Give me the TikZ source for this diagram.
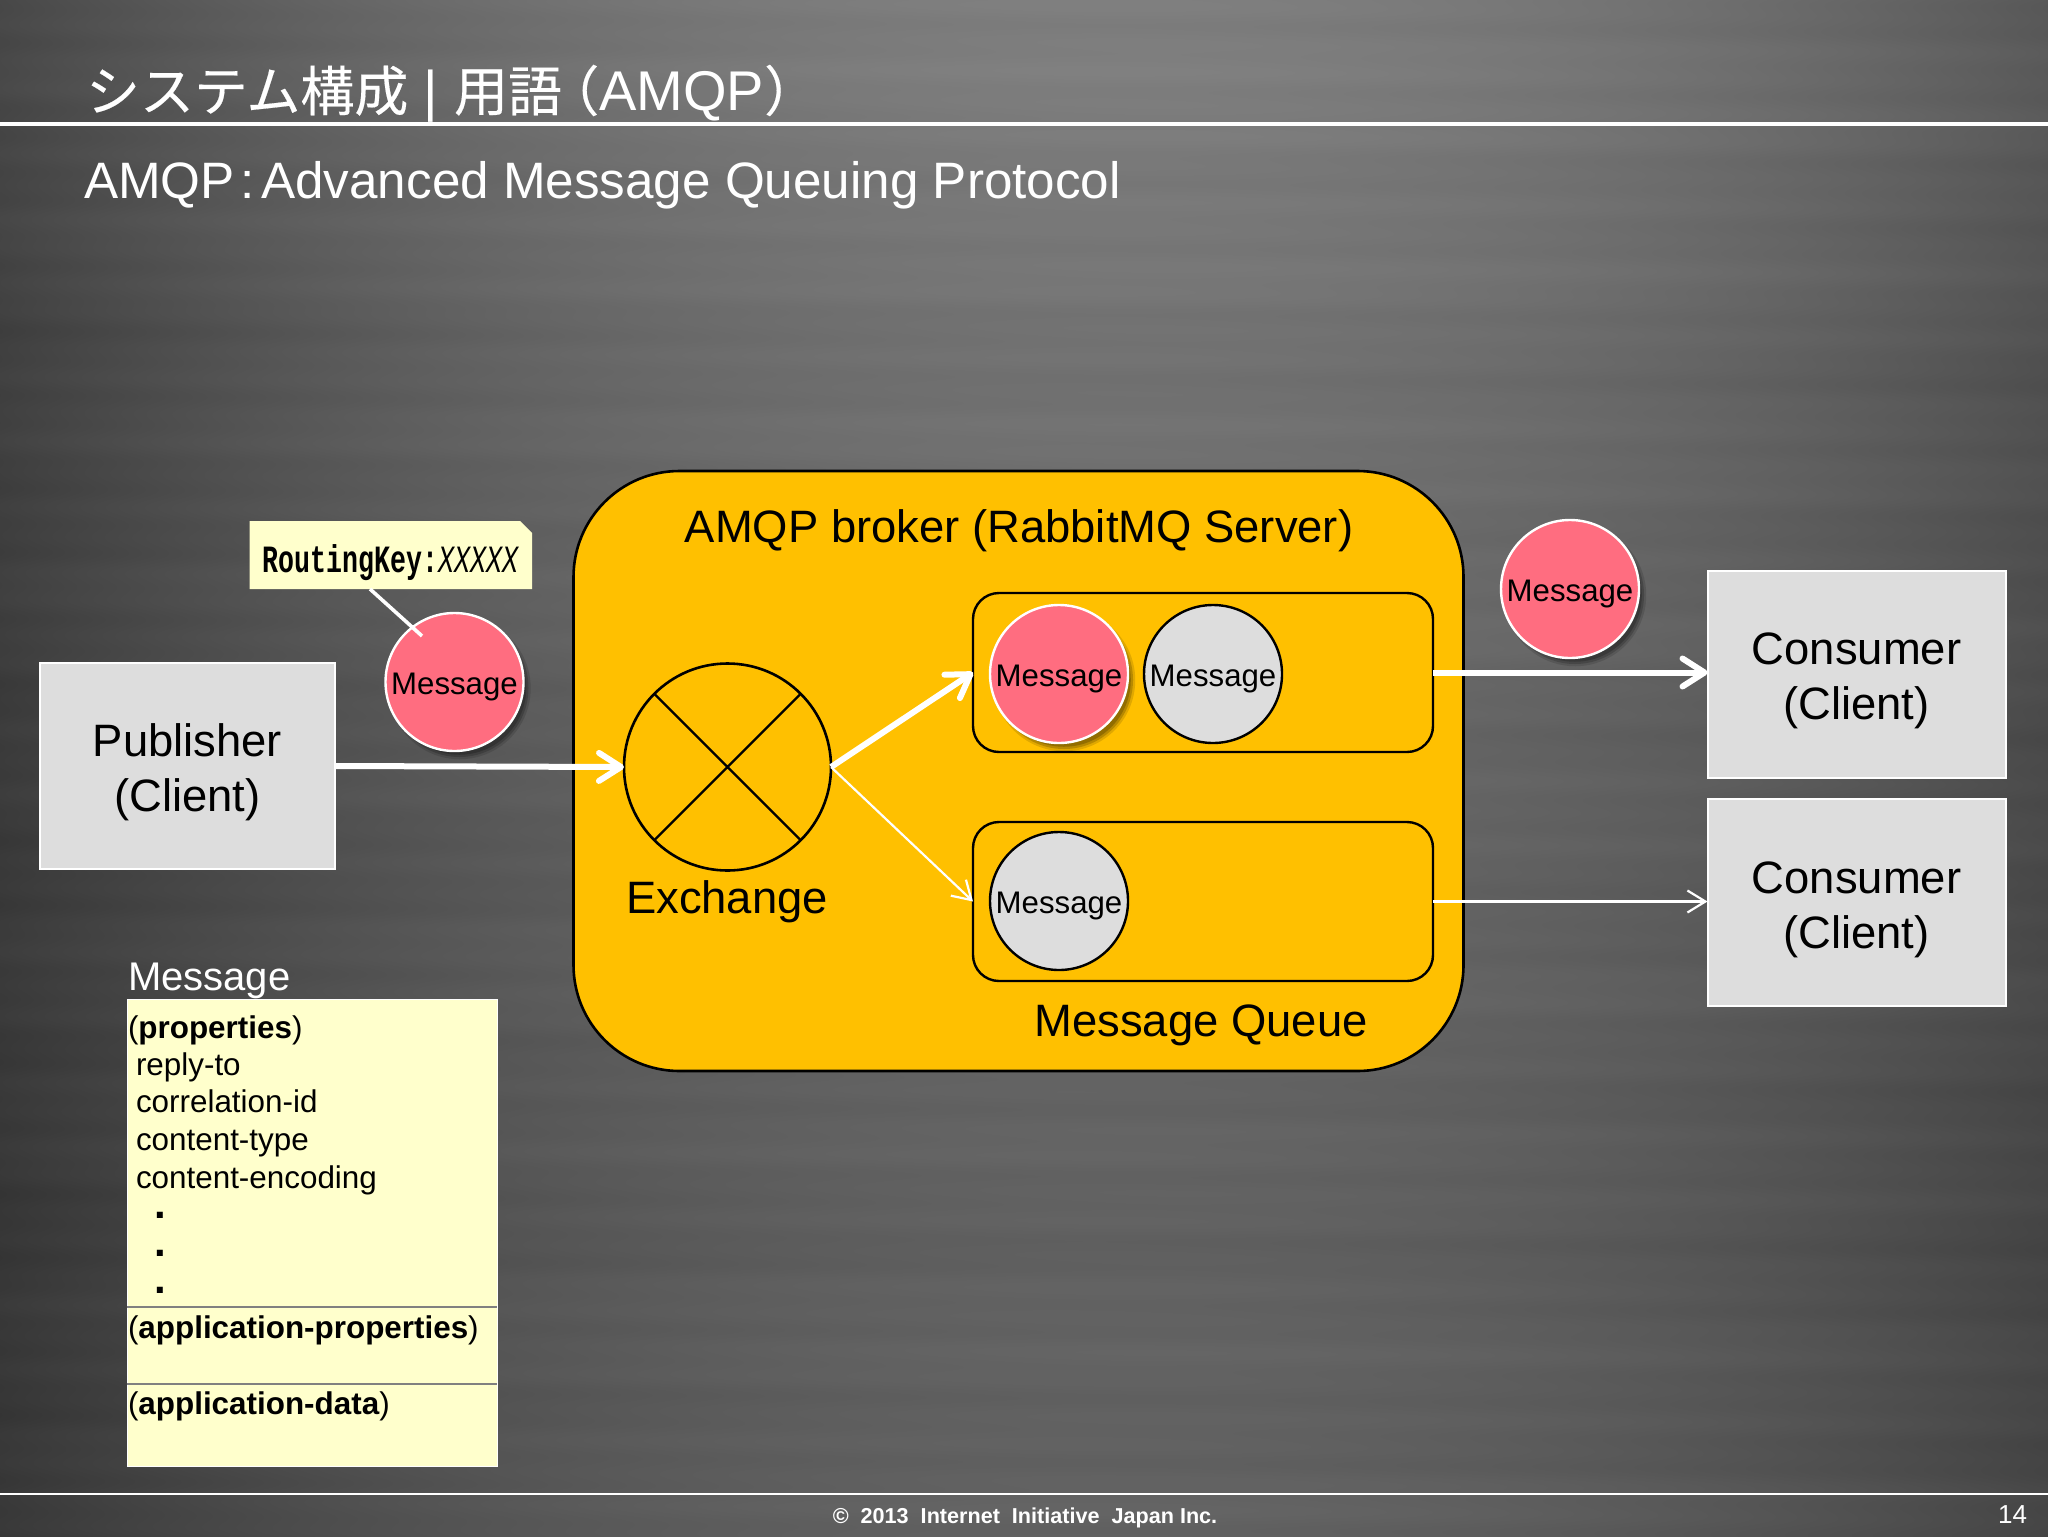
\documentclass[tikz,border=0pt]{standalone}
\usepackage{fontspec}
\setmainfont{Liberation Sans}
\newfontfamily\cjk[FakeBold=0.3]{Noto Sans CJK JP}
\newfontfamily\monof{Liberation Mono}
\usetikzlibrary{arrows.meta,shadows,calc}
\newcommand\fz[2]{\fontsize{#1pt}{#2pt}\selectfont}
\newcommand\cltop{\rule{0pt}{22.9pt}}
\newcommand\msgtext{\rule{0pt}{15.4pt}Message}
\pgfdeclarefunctionalshading{brushed}{\pgfpoint{0pt}{0pt}}{\pgfpoint{1024pt}{768pt}}{}{
  765.1 div exch 1020.2 div exch
  dup 3100 mul 2 index 90 mul add sin 0.0045 mul
  1 index 7700 mul 3 index 140 mul sub sin 0.005 mul add
  1 index 17300 mul 3 index 300 mul add sin 0.004 mul add
  1 index 1300 mul sin 0.003 mul add
  3 1 roll
  dup mul 0.12 mul 0.38 add
  exch 2 mul 1.1 sub
  dup mul 0.36 mul 1 exch sub
  mul add
  dup dup
}
\definecolor{pinkm}{HTML}{FF6D80}
\definecolor{boxg}{HTML}{DDDDDD}
\definecolor{brok}{HTML}{FFC000}
\definecolor{yel}{HTML}{FFFFCC}
\tikzset{
  x=0.5pt,y=-0.5pt,
  lab/.style={inner sep=0,outer sep=0,anchor=base},
  labw/.style={lab,text=white},
  client/.style={rectangle,draw=white,line width=1pt,fill=boxg,inner sep=0,outer sep=0,minimum width=149pt,minimum height=103.5pt,align=center,font=\fz{22.7}{27.5}},
  msg/.style={circle,minimum size=69pt,inner sep=0,outer sep=0,font=\fz{15.6}{18},line width=1.2pt},
  msgr/.style={msg,draw=white,fill=pinkm,
    drop shadow={shadow xshift=2.5pt,shadow yshift=-3pt,shadow scale=1.03,opacity=.12,fill=black},
    drop shadow={shadow xshift=2.5pt,shadow yshift=-3pt,opacity=.18,fill=black},
    drop shadow={shadow xshift=2.5pt,shadow yshift=-3pt,shadow scale=.97,opacity=.2,fill=black}},
  msgg/.style={msg,draw=black,fill=boxg},
  queue/.style={rectangle,draw=black,line width=1.2pt,rounded corners=13pt,inner sep=0,outer sep=0,minimum width=230pt,minimum height=79.5pt},
  thick arrow/.style={draw=white,line width=3pt,-{Straight Barb[length=11pt,width=14pt,round]}},
  thin arrow/.style={draw=white,line width=1.1pt,-{Straight Barb[length=9pt,width=11pt]}},
  boxtext/.style={lab,anchor=base west,font=\fz{15.7}{18},text=black},
  dotmark/.style={lab,font=\bfseries\fz{21}{24}},
}
\begin{document}
\begin{tikzpicture}
\useasboundingbox (0,0) rectangle (2048,1536);
\node[inner sep=0,outer sep=0,anchor=north west] (bg) at (0,0) {\pgfuseshading{brushed}};

% header and footer
\draw[white,line width=2.2pt] (0,124) -- (2048,124);
\draw[white,line width=0.8pt] (0,1494) -- (2048,1494);
\node[labw,anchor=base west,font=\fz{28}{32}] (title) at (86,111) {{\cjk\fz{27}{32}システム構成} | {\cjk\fz{27}{32}用語}\hspace{-0.3em}{\cjk\fz{27}{32}（}AMQP{\cjk\fz{27}{32}）}};
\node[labw,anchor=base west,font=\fz{25.6}{30}] (sub) at (84,198.5) {AMQP\hspace{0.12em}:\hspace{0.12em}Advanced Message Queuing Protocol};
\node[labw,font=\bfseries\fz{10.8}{13}] (foot) at (1025,1523) {©\ \ 2013\ \ Internet\ \ Initiative\ \ Japan Inc.};
\node[labw,anchor=base east,font=\fz{13}{15}] (page) at (2027,1523) {14};

% broker
\node[rectangle,draw=black,line width=1.3pt,fill=brok,rounded corners=53pt,inner sep=0,outer sep=0,minimum width=445pt,minimum height=300pt] (broker) at (1018.5,771) {};
\node[lab,font=\fz{22.7}{27}] (brokerl) at (1019,542) {AMQP broker (RabbitMQ Server)};

% exchange
\node[circle,draw=black,line width=1.3pt,minimum size=103.5pt,inner sep=0,outer sep=0] (ex) at (727.5,767) {};
\draw[black,line width=1.2pt] (ex.45) -- (ex.225) (ex.135) -- (ex.-45);
\node[lab,font=\fz{22.7}{27}] (exl) at (727,913) {Exchange};

% queues
\node[queue] (q1) at (1203,672.5) {};
\node[queue] (q2) at (1203,901.5) {};
\node[lab,font=\fz{22.7}{27}] (ql) at (1201,1036) {Message Queue};
\node[msgr] (m1) at (1059,674) {\msgtext};
\node[msgg] (m2) at (1213,674) {\msgtext};
\node[msgg] (m3) at (1059,901) {\msgtext};

% clients
\node[client,minimum width=147.5pt,minimum height=103pt] (pub) at (187.5,766) {\cltop Publisher\\(Client)};
\node[client] (c1) at (1856.5,674) {\cltop Consumer\\(Client)};
\node[client] (c2) at (1856.5,902.5) {\cltop Consumer\\(Client)};

% travelling messages
\node[msgr] (m0) at (454.5,682) {\msgtext};
\node[msgr] (m4) at (1570,589) {\msgtext};

% routing key callout
\fill[yel] (249.5,521) -- (520,521) -- (532,533) -- (532,589) -- (249.5,589) -- cycle;
\node[inner sep=0,outer sep=0] (rk) at (391,562.5) {\scalebox{1}[1.45]{\monof\fz{13.3}{15}\textbf{RoutingKey:}\textit{XXXXX}}};
\coordinate (rkfoot) at (370,589);
\coordinate (m0in) at (422,636);
\draw[white,line width=1.8pt] (rkfoot) -- (m0in);

% arrows
\draw[thick arrow] (pub.east) -- (ex.west);
\draw[thick arrow] (ex.east) -- (q1.west);
\draw[thin arrow] (ex.east) -- (q2.west);
\draw[thick arrow] (q1.east) -- (c1.west |- q1.east);
\draw[thin arrow] (q2.east) -- (c2.west |- q2.east);

% message structure
\node[labw,anchor=base west,font=\fz{20}{24}] (ml) at (128,990.5) {Message};
\node[rectangle,fill=yel,draw=white,line width=0.4pt,inner sep=0,outer sep=0,minimum width=185pt,minimum height=233.5pt] (mb) at (312,1232.5) {};
\coordinate (s1l) at (mb.west |- 0,1307);
\coordinate (s1r) at (mb.east |- 0,1307);
\coordinate (s2l) at (mb.west |- 0,1384);
\coordinate (s2r) at (mb.east |- 0,1384);
\draw[black!50,line width=1.4pt] (s1l) -- (s1r) (s2l) -- (s2r);
\node[boxtext] (t1) at (128,1038) {(\textbf{properties})};
\node[boxtext] (t2) at (136,1075) {reply-to};
\node[boxtext] (t3) at (136,1112) {correlation-id};
\node[boxtext] (t4) at (136,1150) {content-type};
\node[boxtext] (t5) at (136,1188) {content-encoding};
\node[dotmark] (d1) at (160.5,1218) {\smash{.}};
\node[dotmark] (d2) at (160.5,1256) {\smash{.}};
\node[dotmark] (d3) at (160.5,1293) {\smash{.}};
\node[boxtext] (t6) at (128,1338) {(\textbf{application-properties})};
\node[boxtext] (t7) at (128,1414) {(\textbf{application-data})};
\end{tikzpicture}
\end{document}
